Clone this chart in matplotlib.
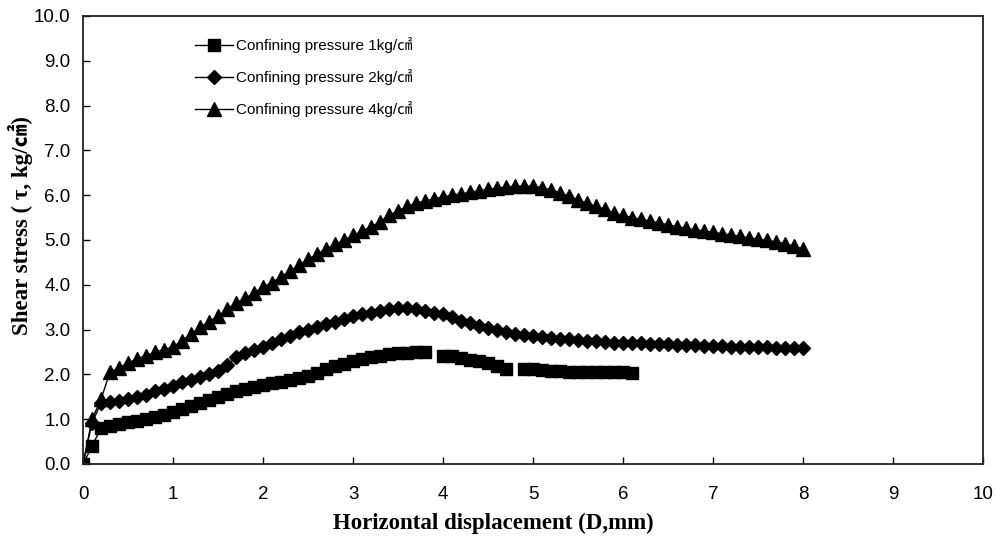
import numpy as np
import matplotlib
matplotlib.use("Agg")
import matplotlib.pyplot as plt

# Horizontal displacement (mm), sampled every 0.1 mm
disp_1kg = [0.0, 0.1, 0.2, 0.3, 0.4, 0.5, 0.6, 0.7, 0.8, 0.9,
            1.0, 1.1, 1.2, 1.3, 1.4, 1.5, 1.6, 1.7, 1.8, 1.9,
            2.0, 2.1, 2.2, 2.3, 2.4, 2.5, 2.6, 2.7, 2.8, 2.9,
            3.0, 3.1, 3.2, 3.3, 3.4, 3.5, 3.6, 3.7, 3.8, 3.9,
            4.0, 4.1, 4.2, 4.3, 4.4, 4.5, 4.6, 4.7, 4.8, 4.9,
            5.0, 5.1, 5.2, 5.3, 5.4, 5.5, 5.6, 5.7, 5.8, 5.9,
            6.0, 6.1]
disp_long = [0.0, 0.1, 0.2, 0.3, 0.4, 0.5, 0.6, 0.7, 0.8, 0.9,
             1.0, 1.1, 1.2, 1.3, 1.4, 1.5, 1.6, 1.7, 1.8, 1.9,
             2.0, 2.1, 2.2, 2.3, 2.4, 2.5, 2.6, 2.7, 2.8, 2.9,
             3.0, 3.1, 3.2, 3.3, 3.4, 3.5, 3.6, 3.7, 3.8, 3.9,
             4.0, 4.1, 4.2, 4.3, 4.4, 4.5, 4.6, 4.7, 4.8, 4.9,
             5.0, 5.1, 5.2, 5.3, 5.4, 5.5, 5.6, 5.7, 5.8, 5.9,
             6.0, 6.1, 6.2, 6.3, 6.4, 6.5, 6.6, 6.7, 6.8, 6.9,
             7.0, 7.1, 7.2, 7.3, 7.4, 7.5, 7.6, 7.7, 7.8, 7.9,
             8.0]

# Shear stress (kg/cm2); nan = missing reading
stress_1kg = [0.0, 0.40, 0.80, 0.85, 0.90, 0.93, 0.97, 1.00, 1.05, 1.10,
              1.16, 1.23, 1.30, 1.37, 1.43, 1.50, 1.56, 1.62, 1.67, 1.72,
              1.76, 1.80, 1.84, 1.88, 1.92, 1.97, 2.04, 2.11, 2.18, 2.24,
              2.29, 2.34, 2.38, 2.42, 2.45, 2.47, 2.48, 2.50, 2.50, np.nan,
              2.42, 2.40, 2.37, 2.33, 2.30, 2.26, 2.19, 2.12, np.nan, 2.12,
              2.12, 2.10, 2.08, 2.07, 2.06, 2.06, 2.06, 2.06, 2.06, 2.05,
              2.05, 2.04]
stress_2kg = [0.0, 0.92, 1.36, 1.38, 1.40, 1.45, 1.50, 1.55, 1.62, 1.68,
              1.75, 1.82, 1.88, 1.94, 2.00, 2.07, 2.20, 2.38, 2.48, 2.55,
              2.62, 2.70, 2.78, 2.86, 2.95, 3.00, 3.05, 3.12, 3.18, 3.24,
              3.30, 3.34, 3.38, 3.42, 3.45, 3.48, 3.48, 3.45, 3.42, 3.38,
              3.34, 3.28, 3.20, 3.14, 3.08, 3.03, 2.98, 2.94, 2.90, 2.88,
              2.86, 2.84, 2.82, 2.80, 2.78, 2.76, 2.75, 2.74, 2.72, 2.71,
              2.70, 2.70, 2.69, 2.68, 2.68, 2.67, 2.66, 2.66, 2.65, 2.64,
              2.64, 2.63, 2.62, 2.62, 2.61, 2.60, 2.60, 2.59, 2.59, 2.58,
              2.58]
stress_4kg = [0.0, 1.00, 1.45, 2.05, 2.15, 2.25, 2.35, 2.42, 2.50, 2.55,
              2.62, 2.75, 2.90, 3.05, 3.18, 3.30, 3.45, 3.60, 3.70, 3.82,
              3.95, 4.05, 4.18, 4.30, 4.45, 4.57, 4.68, 4.80, 4.90, 5.00,
              5.10, 5.20, 5.30, 5.40, 5.55, 5.65, 5.75, 5.82, 5.87, 5.92,
              5.96, 6.00, 6.03, 6.06, 6.10, 6.13, 6.16, 6.18, 6.20, 6.20,
              6.20, 6.17, 6.12, 6.05, 5.98, 5.90, 5.82, 5.75, 5.68, 5.60,
              5.55, 5.50, 5.46, 5.42, 5.38, 5.34, 5.30, 5.26, 5.23, 5.20,
              5.17, 5.14, 5.11, 5.08, 5.05, 5.02, 4.99, 4.96, 4.92, 4.86,
              4.80]

labels = ["Confining pressure 1kg/㎠",
          "Confining pressure 2kg/㎠",
          "Confining pressure 4kg/㎠"]

sans = ["Liberation Sans", "Noto Sans CJK KR"]
serif = ["Liberation Serif", "Noto Sans CJK KR"]

fig = plt.figure(figsize=(9.97, 5.54), dpi=100)
ax = fig.add_axes([0.0833, 0.1625, 0.9027, 0.8087])

ax.plot(disp_1kg, stress_1kg, color="black", lw=1, marker="s", ms=8.5, label=labels[0])
ax.plot(disp_long, stress_2kg, color="black", lw=1, marker="D", ms=7.5, label=labels[1])
ax.plot(disp_long, stress_4kg, color="black", lw=1, marker="^", ms=9.5, label=labels[2])

ax.set_xlim(0, 10)
ax.set_ylim(0, 10)
ax.set_xticks(range(0, 11))
ax.set_yticks(range(0, 11))
ax.set_yticklabels([f"{v:.1f}" for v in range(0, 11)])

for s in ax.spines.values():
    s.set_linewidth(1.3)
    s.set_color("#222222")

ax.tick_params(axis="both", direction="in", length=5, width=1, labelsize=13.5)
ax.tick_params(axis="x", pad=16)
ax.tick_params(axis="y", pad=9)
for t in ax.get_xticklabels() + ax.get_yticklabels():
    t.set_family(sans)

ax.set_xlabel("Horizontal displacement (D,mm)", family=serif,
              fontsize=16.5, fontweight="bold")
ax.xaxis.set_label_coords(0.456, -0.11)
ax.set_ylabel("Shear stress ( τ, kg/㎠)", family=serif,
              fontsize=16.5, fontweight="bold")
ax.yaxis.set_label_coords(-0.056, 0.533)

leg = ax.legend(loc="upper left", bbox_to_anchor=(0.124, 0.953), frameon=False,
                borderaxespad=0, borderpad=0, handlelength=2.5,
                handletextpad=0.2, labelspacing=1.05,
                prop={"family": sans, "size": 11})

fig.savefig("out.png", dpi=100)
